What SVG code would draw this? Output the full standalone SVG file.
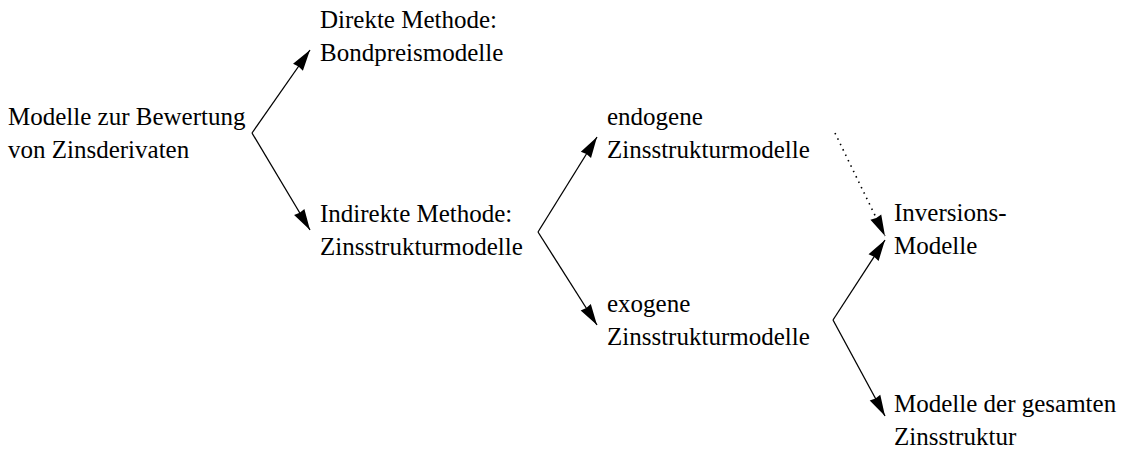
<svg xmlns="http://www.w3.org/2000/svg" width="1122" height="450" viewBox="0 0 1122 450">
  <style>
    .label { font-family: 'Liberation Serif', Tinos, 'Times New Roman', Times, serif; font-size: 25px; fill: #000; }
    .edge { fill: none; stroke: #000; stroke-width: 1.3; }
    .dotted { stroke-dasharray: 1.5 4.5; stroke-width: 1.6; }
  </style>
  <defs>
    <marker id="arrow" markerUnits="userSpaceOnUse" markerWidth="24" markerHeight="14" viewBox="-23 -7 24 14" refX="0" refY="0" orient="auto">
      <path d="M0,0 L-21,-6 L-20,0 L-21,6 Z" fill="#000"/>
    </marker>
  </defs>

  <rect width="1122" height="450" fill="#fff"/>

  <!-- nodes -->
  <g id="root" class="label" font-family="Liberation Serif, serif">
    <text x="8" y="125">Modelle zur Bewertung</text>
    <text x="8" y="158">von Zinsderivaten</text>
  </g>
  <g id="direkt" class="label" font-family="Liberation Serif, serif">
    <text x="320" y="28">Direkte Methode:</text>
    <text x="320" y="61">Bondpreismodelle</text>
  </g>
  <g id="indirekt" class="label" font-family="Liberation Serif, serif">
    <text x="320" y="222">Indirekte Methode:</text>
    <text x="320" y="255">Zinsstrukturmodelle</text>
  </g>
  <g id="endogen" class="label" font-family="Liberation Serif, serif">
    <text x="607" y="125">endogene</text>
    <text x="607" y="158">Zinsstrukturmodelle</text>
  </g>
  <g id="exogen" class="label" font-family="Liberation Serif, serif">
    <text x="607" y="312">exogene</text>
    <text x="607" y="345">Zinsstrukturmodelle</text>
  </g>
  <g id="inversion" class="label" font-family="Liberation Serif, serif">
    <text x="894" y="221">Inversions-</text>
    <text x="894" y="254">Modelle</text>
  </g>
  <g id="gesamt" class="label" font-family="Liberation Serif, serif">
    <text x="894" y="412">Modelle der gesamten</text>
    <text x="894" y="445">Zinsstruktur</text>
  </g>

  <!-- connectors: each branch runs from its fork point to the child -->
  <g id="connectors">
    <path class="edge" d="M252,133 L310,50" marker-end="url(#arrow)"/>
    <path class="edge" d="M252,133 L310,230" marker-end="url(#arrow)"/>
    <path class="edge" d="M538,232 L597,137" marker-end="url(#arrow)"/>
    <path class="edge" d="M538,232 L597,325" marker-end="url(#arrow)"/>
    <path class="edge" d="M833,320 L885,240" marker-end="url(#arrow)"/>
    <path class="edge" d="M833,320 L885,416" marker-end="url(#arrow)"/>
    <path class="edge dotted" d="M835,133 L885,236" marker-end="url(#arrow)"/>
  </g>
</svg>
